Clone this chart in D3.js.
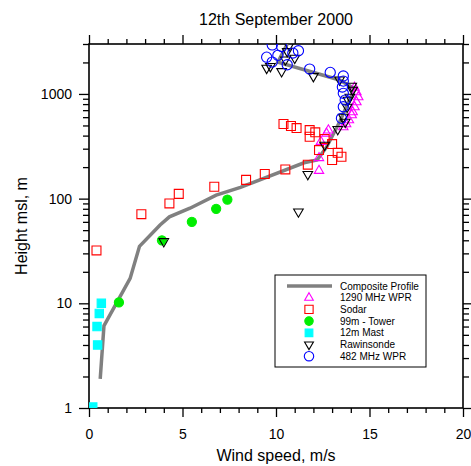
<!DOCTYPE html>
<meta charset="utf-8">
<style>
body { margin: 0; background: #fff; }
text { font-family: "Liberation Sans", Arial, sans-serif; fill: #000; }
</style>
<svg width="471" height="466"></svg>
<script src="https://cdn.jsdelivr.net/npm/d3@7"></script>
<script>
// wind speed (m/s), height (m)
var composite = [[0.6,1.9],[0.8,6.1],[2.2,17.3],[2.7,35],[3.8,56],[4.3,67],[5.4,81],[6.8,108],[8.1,128],
  [11.5,220],[12.2,234],[12.7,310],[13.4,540],[14.2,1120],[13.4,1360],[10.1,2010],[10.6,3000]];
var wpr1290 = [[12.3,185],[12.3,245],[12.4,350],[12.7,420],[12.8,450],[13.6,483],[13.75,516],[13.9,563],
  [14.05,629],[14.1,672],[14.2,750],[14.3,837],[14.4,934],[14.3,1042],[14.2,1150]];
var sodar = [[0.4,32],[2.8,71],[4.3,90],[4.8,111],[6.7,130],[8.4,151],[9.4,172],[10.5,190],[11.7,211],
  [10.4,516],[10.8,494],[11.1,472],[11.8,452],[11.8,390],[12.1,430],[12.6,371],[12.3,291],[13.0,332],
  [13.0,234],[13.3,274],[13.5,251]];
var tower = [[1.6,10.2],[3.9,40],[5.5,60],[6.8,80],[7.4,98]];
var mast = [[0.66,10],[0.55,8],[0.43,6],[0.46,4],[0.2,1.02]];
var rawin = [[4.0,39],[11.2,75],[11.7,171],[12.6,325],[13.3,460],[13.7,539],[13.6,601],[13.8,750],
  [13.85,874],[13.95,934],[14.1,1089],[14.05,1189],[13.4,1367],[12.0,1473],[10.3,1643],[9.5,1767],
  [9.7,1835],[10.5,2123],[11.0,2203],[10.6,2553],[10.7,2900]];
var wpr482 = [[9.5,2245],[9.8,2017],[10.1,2337],[10.6,1900],[10.9,2459],[11.2,2587],[9.8,2940],[10.3,2840],
  [11.8,1729],[12.9,1607],[13.6,1483],[13.6,1327],[13.55,1164],[13.6,1013],[13.7,874],[13.6,755],[13.5,585]];

var xMajor = [0,5,10,15,20];
var xMinor = d3.range(1,20).filter(function(v){ return v % 5 != 0; });
var yMajor = [1,10,100,1000];
var yMinor = [];
yMajor.forEach(function(d){ for (var k=2;k<=9;k++) if (d*k<=3000) yMinor.push(d*k); });

var legendNames = ["Composite Profile","1290 MHz WPR","Sodar","99m - Tower","12m Mast","Rawinsonde","482 MHz WPR"];

var svg = d3.select("svg"),
    margin = {top:44, right:8, bottom:58, left:89},
    width = 471 - margin.left - margin.right,
    height = 466 - margin.top - margin.bottom;

var x = d3.scaleLinear().domain([0,20]).range([0,width]);
var y = d3.scaleLog().domain([1,3000]).range([height,0]);

var g = svg.append("g").attr("transform","translate("+margin.left+","+margin.top+")");

g.append("clipPath").attr("id","clip").append("rect").attr("width",width).attr("height",height);

function addAxis(axis, tr, vals, size, labels) {
  var a = g.append("g").attr("transform",tr)
    .call(axis.tickValues(vals).tickSize(size).tickSizeOuter(0)
      .tickFormat(labels ? d3.format("d") : function(){ return ""; }));
  a.select(".domain").remove();
  a.selectAll("line").attr("stroke","#000").attr("stroke-width",1.3);
  a.selectAll("text").style("font-size","14px").attr("fill","#000");
  return a;
}
addAxis(d3.axisBottom(x), "translate(0,"+height+")", xMajor, 9, true)
  .selectAll("text").attr("dy","1.35em");
addAxis(d3.axisBottom(x), "translate(0,"+height+")", xMinor, 5, false);
addAxis(d3.axisTop(x), "", xMajor, 9, false);
addAxis(d3.axisTop(x), "", xMinor, 5, false);
addAxis(d3.axisLeft(y), "", yMajor, 10, true).selectAll("text").attr("x",-17);
addAxis(d3.axisLeft(y), "", yMinor, 6, false);
addAxis(d3.axisRight(y), "translate("+width+",0)", yMajor, 10, false);
addAxis(d3.axisRight(y), "translate("+width+",0)", yMinor, 6, false);

g.append("rect").attr("width",width).attr("height",height)
  .attr("fill","none").attr("stroke","#000").attr("stroke-width",1.6);

var plot = g.append("g").attr("clip-path","url(#clip)");

plot.append("path").datum(composite)
  .attr("fill","none").attr("stroke","#808080").attr("stroke-width",3.5)
  .attr("d", d3.line().x(function(d){ return x(d[0]); }).y(function(d){ return y(d[1]); }));

var styles = [
  {data:wpr1290, type:d3.symbolTriangle, size:38, rot:0,   fill:"none",    stroke:"#ff00ff"},
  {data:sodar,   type:d3.symbolSquare,   size:80, rot:0,   fill:"none",    stroke:"#ff0000"},
  {data:tower,   type:d3.symbolCircle,   size:66, rot:0,   fill:"#00ee00", stroke:"#00ee00"},
  {data:mast,    type:d3.symbolSquare,   size:70, rot:0,   fill:"#00ffff", stroke:"#00ffff"},
  {data:rawin,   type:d3.symbolTriangle, size:40, rot:180, fill:"none",    stroke:"#000"},
  {data:wpr482,  type:d3.symbolCircle,   size:82, rot:0,   fill:"none",    stroke:"#0000ff"}
];

styles.forEach(function(s){
  plot.append("g").selectAll("path").data(s.data).enter().append("path")
    .attr("d", d3.symbol().type(s.type).size(s.size))
    .attr("transform", function(d){ return "translate("+x(d[0])+","+y(d[1])+") rotate("+s.rot+")"; })
    .attr("fill", s.fill).attr("stroke", s.stroke).attr("stroke-width",1.1);
});

// legend
var lg = svg.append("g").attr("transform","translate(275,275)");
lg.append("rect").attr("width",151).attr("height",92)
  .attr("fill","#fff").attr("stroke","#000").attr("stroke-width",1);
legendNames.forEach(function(name,i){
  var cy = 11 + i*11.7;
  if (i == 0) {
    lg.append("line").attr("x1",12).attr("x2",57).attr("y1",cy).attr("y2",cy)
      .attr("stroke","#808080").attr("stroke-width",3.5);
  } else {
    var s = styles[i-1];
    lg.append("path").attr("d", d3.symbol().type(s.type).size(s.size*0.85))
      .attr("transform","translate(34,"+cy+") rotate("+s.rot+")")
      .attr("fill",s.fill).attr("stroke",s.stroke).attr("stroke-width",1.1);
  }
  lg.append("text").attr("x",65).attr("y",cy).attr("dy","0.35em")
    .style("font-size","10px").text(name);
});

svg.append("text").attr("x",margin.left+width/2).attr("y",25).attr("text-anchor","middle")
  .style("font-size","16px").text("12th September 2000");
svg.append("text").attr("x",margin.left+width/2).attr("y",461).attr("text-anchor","middle")
  .style("font-size","16px").text("Wind speed, m/s");
svg.append("text").attr("transform","translate(27,"+(margin.top+height/2)+") rotate(-90)")
  .attr("text-anchor","middle").style("font-size","16px").text("Height msl, m");
</script>
